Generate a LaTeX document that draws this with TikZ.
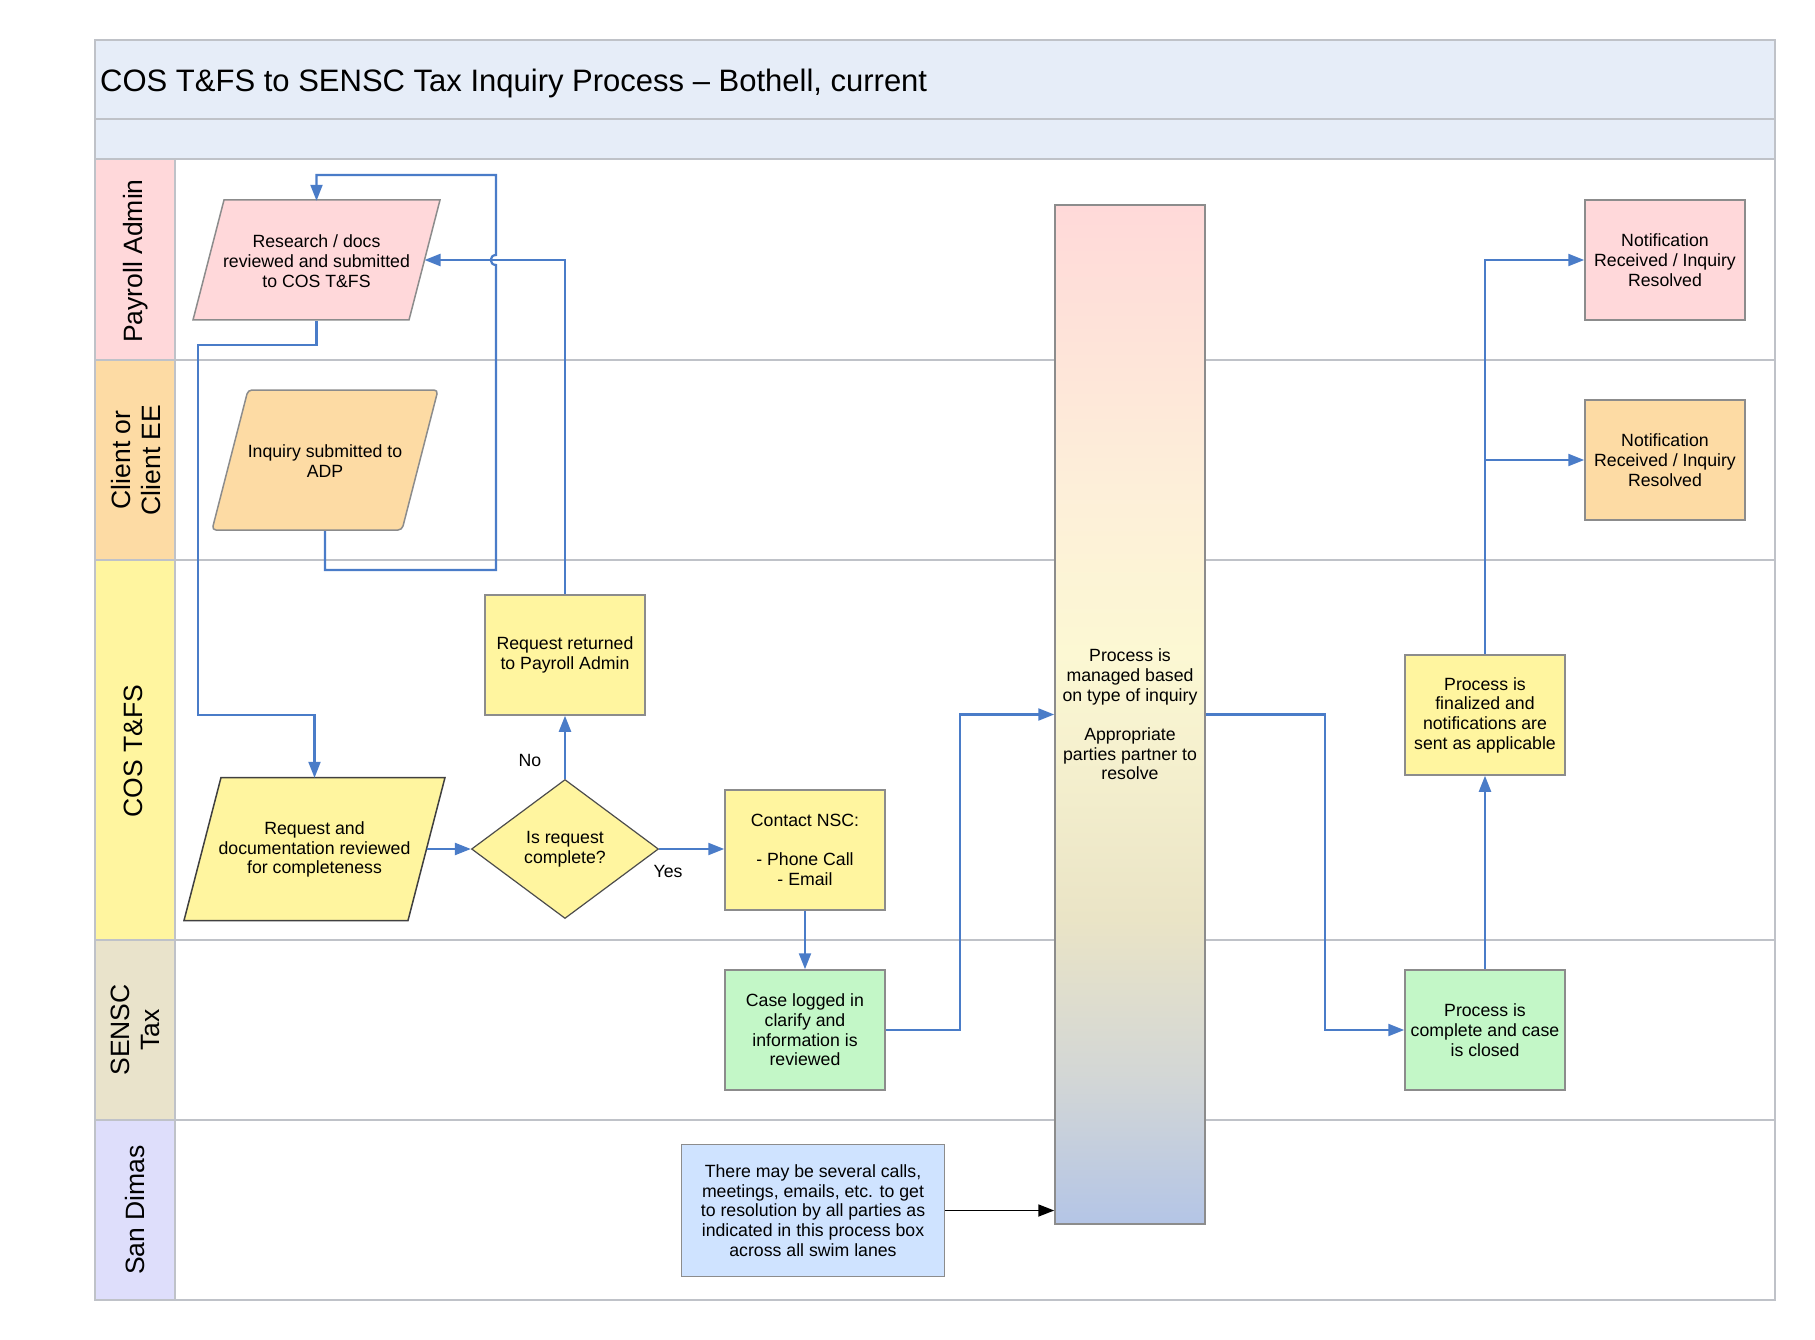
\documentclass[tikz,border=0pt]{standalone}
\usepackage{fontspec}
\setmainfont{Liberation Sans}
\usetikzlibrary{arrows.meta,shapes.geometric,calc}
\definecolor{pinkf}{HTML}{FFD8DA}
\definecolor{orangef}{HTML}{FDDBA4}
\definecolor{yellowf}{HTML}{FFF59F}
\definecolor{tanf}{HTML}{E9E3CB}
\definecolor{lavf}{HTML}{DEDEFB}
\definecolor{headf}{HTML}{E6EDF8}
\definecolor{greenf}{HTML}{C3F7C7}
\definecolor{notef}{HTML}{CFE3FF}
\definecolor{laneline}{HTML}{BFC2C8}
\definecolor{nodeline}{HTML}{8C8C8C}
\definecolor{connblue}{HTML}{4A7CC8}
\definecolor{gA}{HTML}{FFD9D9}
\definecolor{gB}{HTML}{FDEFD9}
\definecolor{gC}{HTML}{FCF8D3}
\definecolor{gD}{HTML}{EAE4C6}
\definecolor{gE}{HTML}{D2D6D6}
\definecolor{gF}{HTML}{B4C5E6}
\pgfdeclareverticalshading{bigshade}{100bp}{color(0bp)=(gF); color(25bp)=(gF); color(32bp)=(gE); color(40bp)=(gD); color(53bp)=(gC); color(61bp)=(gB); color(75bp)=(gA); color(100bp)=(gA)}
\newcommand{\mynodefont}{\fontsize{17.7}{19.7}\selectfont}
\newcommand{\mylanefont}{\fontsize{26.5}{30}\selectfont}
\newcommand{\mytitlefont}{\fontsize{31}{36}\selectfont}
\begin{document}
\begin{tikzpicture}[x=1pt,y=-1pt,
  box/.style={draw=nodeline, line width=1.5pt, minimum width=160pt, minimum height=120pt, inner sep=0pt, align=center, font=\mynodefont},
  pgram/.style={draw=nodeline, line width=1.5pt},
  ptext/.style={inner sep=0pt, align=center, font=\mynodefont},
  conn/.style={draw=connblue, line width=2.2pt, -{Triangle[length=16pt,width=12pt]}},
  lanelbl/.style={rotate=90, font=\mylanefont, align=center, inner sep=0pt},
  lbl/.style={font=\mynodefont, inner sep=0pt},
  laneln/.style={draw=laneline, line width=2pt}
]
\useasboundingbox (0,0) rectangle (1815,1340);
\fill[white] (0,0) rectangle (1815,1340);
% frame and lanes
\fill[headf] (95,40) rectangle (1775,159);
\fill[pinkf] (95,159) rectangle (175,360);
\fill[orangef] (95,360) rectangle (175,560);
\fill[yellowf] (95,560) rectangle (175,940);
\fill[tanf] (95,940) rectangle (175,1120);
\fill[lavf] (95,1120) rectangle (175,1300);
\draw[laneln] (95,119) -- (1775,119);
\draw[laneln] (95,159) -- (1775,159);
\draw[laneln] (95,360) -- (1775,360);
\draw[laneln] (95,560) -- (1775,560);
\draw[laneln] (95,940) -- (1775,940);
\draw[laneln] (95,1120) -- (1775,1120);
\draw[laneln] (175,159) -- (175,1300);
\draw[laneln] (95,40) rectangle (1775,1300);
\node[anchor=west, font=\mytitlefont, inner sep=0pt] (title) at (100,83) {COS T\&FS to SENSC Tax Inquiry Process – Bothell, current};
\node[lanelbl] (l1) at (136,261) {Payroll Admin};
\node[lanelbl] (l2) at (136,460) {Client or\\Client EE};
\node[lanelbl] (l3) at (133,751) {COS T\&FS};
\node[lanelbl] (l4) at (135,1030) {SENSC\\Tax};
\node[lanelbl] (l5) at (135,1210) {San Dimas};
% parallelograms
\draw[pgram, fill=pinkf] (224,200) -- (440,200) -- (409,320) -- (193,320) -- cycle;
\node[ptext, minimum width=247pt, minimum height=120pt] (res) at (316.5,261) {Research / docs\\reviewed and submitted\\to COS T\&FS};
\coordinate (resR) at (424.5,260);
\draw[pgram, fill=orangef, rounded corners=4pt] (248,390) -- (438,390) -- (402,530) -- (212,530) -- cycle;
\node[ptext, minimum width=226pt, minimum height=140pt] (inq) at (325,461) {Inquiry submitted to\\ADP};
\draw[pgram, draw=black!75, fill=yellowf] (221,777.5) -- (445,777.5) -- (408,920.5) -- (184,920.5) -- cycle;
\node[ptext, minimum width=261pt, minimum height=143pt] (req) at (314.5,849.5) {Request and\\documentation reviewed\\for completeness};
\coordinate (reqR) at (426.5,849);
% diamond
\node[diamond, draw=black!70, line width=1.2pt, fill=yellowf, minimum width=187pt, minimum height=139pt, inner sep=0pt, align=center, font=\mynodefont] (dia) at (565,849) {Is request\\complete?};
% boxes
\node[box, fill=yellowf] (ret) at (565,655) {Request returned\\to Payroll Admin};
\node[box, fill=yellowf] (nsc) at (805,850) {Contact NSC:\\[19.7pt]- Phone Call\\- Email};
\node[box, fill=greenf] (case) at (805,1030) {Case logged in\\clarify and\\information is\\reviewed};
\node[box, shading=bigshade, minimum width=150pt, minimum height=1019pt] (big) at (1130,714.5) {Process is\\managed based\\on type of inquiry\\[19.7pt]Appropriate\\parties partner to\\resolve};
\node[box, fill=greenf] (done) at (1485,1030) {Process is\\complete and case\\is closed};
\node[box, fill=yellowf] (fin) at (1485,715) {Process is\\finalized and\\notifications are\\sent as applicable};
\node[box, fill=pinkf] (n1) at (1665,260) {Notification\\Received / Inquiry\\Resolved};
\node[box, fill=orangef] (n2) at (1665,460) {Notification\\Received / Inquiry\\Resolved};
\node[box, fill=notef, minimum width=263pt, minimum height=132pt] (note) at (813,1210.5) {There may be several calls,\\meetings, emails, etc. to get\\to resolution by all parties as\\indicated in this process box\\across all swim lanes};
% labels
\node[lbl] (no) at (530,760) {No};
\node[lbl] (yes) at (668,871) {Yes};
% connectors
\coordinate (j1) at (496,570);
\coordinate (h1) at (496,265);
\coordinate (h2) at (496,255);
\coordinate (j2) at (496,175);
\draw[conn] (inq.south) |- (j1) -- (h1) .. controls (489,265) and (489,255) .. (h2) -- (j2) -| (res.north);
\draw[conn] (res.south) |- (198,345) -- (198,715) -| (req.north);
\draw[conn] (ret.north) |- (resR);
\draw[conn] (reqR) -- (dia.west);
\draw[conn] (dia.north) -- (ret.south);
\draw[conn] (dia.east) -- (dia.east -| nsc.west);
\draw[conn] (nsc.south) -- (case.north);
\draw[conn] (case.east) -- (960,1030) |- (big.west);
\draw[conn] (big.east) -- (1325,714.5) |- (done.west);
\draw[conn] (done.north) -- (fin.south);
\draw[conn] (fin.north) |- (n1.west);
\draw[conn] (fin.north |- n2.west) -- (n2.west);
\draw[line width=1.8pt, -{Triangle[length=16pt,width=12pt]}] (note.east) -- (note.east -| big.west);
\end{tikzpicture}
\end{document}
